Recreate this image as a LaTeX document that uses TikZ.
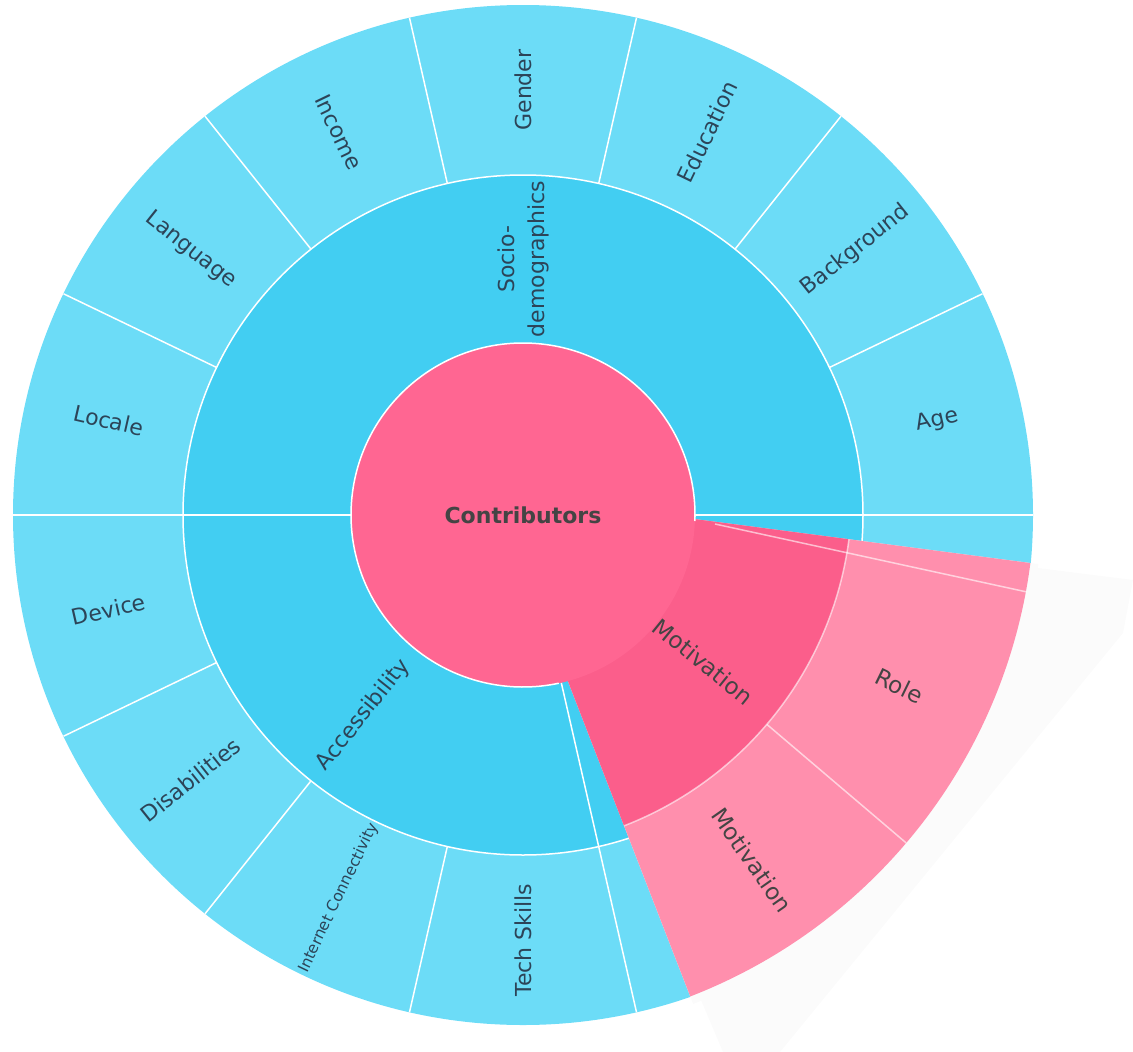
\documentclass[tikz,border=0pt]{standalone}
\usepackage{fontspec}
\setmainfont{DejaVu Sans}
\usepackage{tikz}
\definecolor{outerblue}{HTML}{6CDCF7}
\definecolor{midblue}{HTML}{42CEF2}
\definecolor{centerpink}{HTML}{FF6692}
\definecolor{midpink}{HTML}{FB5E8B}
\definecolor{outerpink}{HTML}{FF8FAD}
\definecolor{shadowgray}{HTML}{FBFBFB}
\definecolor{bluetext}{HTML}{2C4458}
\definecolor{pinktext}{HTML}{444444}

\begin{document}
\begin{tikzpicture}[x=1pt,y=1pt,
	sep_line/.style={draw=white,line width=1.5pt},
	pink_line/.style={draw=white,draw opacity=0.6,line width=1.5pt},
	blue_label/.style={text=bluetext,font=\fontsize{22}{30}\selectfont,inner sep=0pt,align=center},
	small_label/.style={text=bluetext,font=\fontsize{15.5}{18}\selectfont,inner sep=0pt},
	pink_label/.style={text=pinktext,font=\fontsize{23}{28}\selectfont,inner sep=0pt},
	root_label/.style={text=pinktext,font=\fontsize{22}{26}\selectfont\bfseries,inner sep=0pt}]
	\useasboundingbox (0,0) rectangle (1133,-1052);
	\fill[shadowgray] (1030,-567) -- (1133,-580) -- (1123,-633) -- (780,-1052) -- (723,-1052) -- (698,-993) -- cycle;

	\begin{scope}[shift={(523,-515)}]
	\fill[outerblue] (0,0) circle (510);
	\fill[midblue] (0,0) circle (340);
	\draw[sep_line] (0,0) circle (340);
	\draw[sep_line] (0:172) -- (0:510);
	\draw[sep_line] (180:172) -- (180:510);
	\draw[sep_line] (282.86:172) -- (282.86:510);
	\draw[sep_line] (25.71:340) -- (25.71:510);
	\draw[sep_line] (51.43:340) -- (51.43:510);
	\draw[sep_line] (77.14:340) -- (77.14:510);
	\draw[sep_line] (102.86:340) -- (102.86:510);
	\draw[sep_line] (128.57:340) -- (128.57:510);
	\draw[sep_line] (154.29:340) -- (154.29:510);
	\draw[sep_line] (205.71:340) -- (205.71:510);
	\draw[sep_line] (231.43:340) -- (231.43:510);
	\draw[sep_line] (257.14:340) -- (257.14:510);

	\node[blue_label,rotate=12.86] (age) at (12.86:425) {Age};
	\node[blue_label,rotate=38.57] (background) at (38.57:425) {Background};
	\node[blue_label,rotate=64.29] (education) at (64.29:425) {Education};
	\node[blue_label,rotate=90] (gender) at (90:425) {Gender};
	\node[blue_label,rotate=-64.29] (income) at (115.71:425) {Income};
	\node[blue_label,rotate=-38.57] (language) at (141.43:425) {Language};
	\node[blue_label,rotate=-12.86] (locale) at (167.14:425) {Locale};
	\node[blue_label,rotate=12.86] (device) at (192.86:425) {Device};
	\node[blue_label,rotate=38.57] (disabilities) at (218.57:425) {Disabilities};
	\node[small_label,rotate=64.29] (internet) at (244.29:425) {Internet Connectivity};
	\node[blue_label,rotate=90] (techskills) at (270:425) {Tech Skills};

	\node[blue_label,rotate=90] (sociodemo) at (90:256) {Socio-\\demographics};
	\node[blue_label,rotate=51.43] (accessibility) at (231.43:256) {Accessibility};
	\end{scope}

	\begin{scope}[shift={(495,-493)}]
	\fill[shadowgray] (0,0) -- (-7.45:548) arc[start angle=-7.45,end angle=-68.8,radius=548] -- cycle;
	\fill[outerpink] (0,0) -- (-7.45:540) arc[start angle=-7.45,end angle=-68.8,radius=540] -- cycle;
	\fill[midpink] (0,0) -- (-7.45:357) arc[start angle=-7.45,end angle=-68.8,radius=357] -- cycle;
	\draw[pink_line] (-7.45:357) arc[start angle=-7.45,end angle=-68.8,radius=357];
	\draw[pink_line] (-40.4:357) -- (-40.4:540);
	\node[pink_label,rotate=-39] (motivation) at (-39:268) {Motivation};
	\node[pink_label,rotate=-26] (role) at (-25.5:448) {Role};
	\node[pink_label,rotate=-55] (motivationout) at (-55:448) {Motivation};
	\end{scope}
	\draw[pink_line] (715,-524) -- (1027,-592);

	\begin{scope}[shift={(523,-515)}]
	\fill[centerpink] (0,0) circle (172);
	\draw[sep_line] (-2:172) arc[start angle=-2,end angle=282,radius=172];
	\node[root_label] (contributors) at (0,0) {Contributors};
	\end{scope}
\end{tikzpicture}
\end{document}
